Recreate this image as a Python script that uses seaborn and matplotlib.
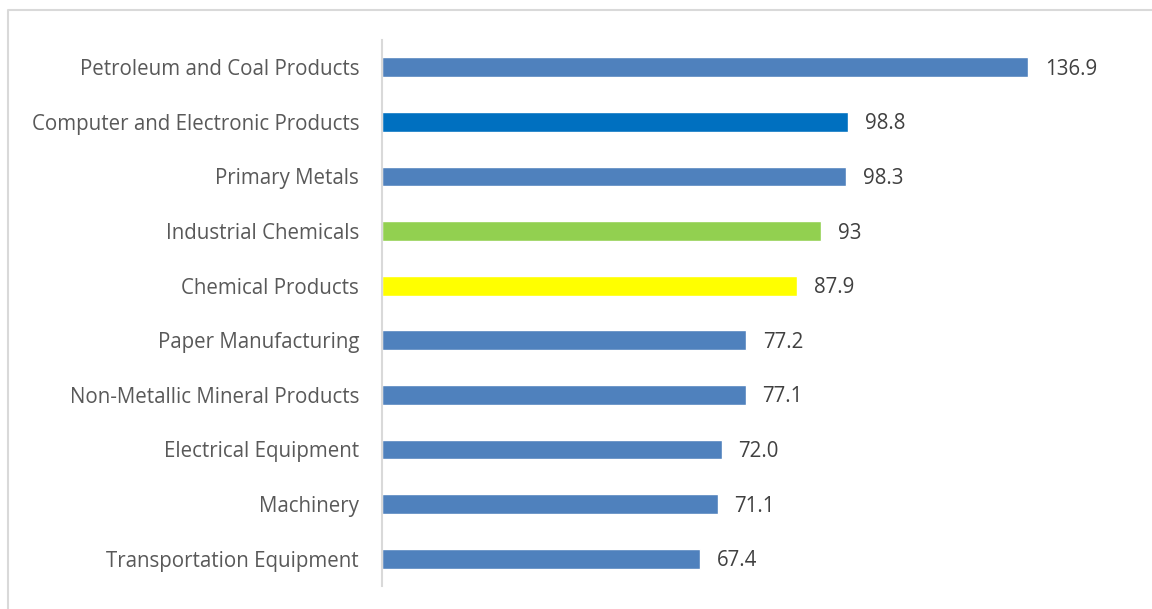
import matplotlib
matplotlib.use("Agg")
import matplotlib.pyplot as plt
import seaborn as sns
import pandas as pd
from matplotlib.lines import Line2D

categories = ["Petroleum and Coal Products", "Computer and Electronic Products",
              "Primary Metals", "Industrial Chemicals", "Chemical Products",
              "Paper Manufacturing", "Non-Metallic Mineral Products",
              "Electrical Equipment", "Machinery", "Transportation Equipment"]
values = [136.9, 98.8, 98.3, 93, 87.9, 77.2, 77.1, 72.0, 71.1, 67.4]
value_labels = ["136.9", "98.8", "98.3", "93", "87.9", "77.2", "77.1", "72.0", "71.1", "67.4"]
bar_colors = ["#4F81BD", "#0070C0", "#4F81BD", "#92D050", "#FFFF00",
              "#4F81BD", "#4F81BD", "#4F81BD", "#4F81BD", "#4F81BD"]

sns.set_theme(style="white")
plt.rcParams["font.family"] = ["Open Sans", "DejaVu Sans"]

df = pd.DataFrame({"cat": categories, "val": values})

fig = plt.figure(figsize=(11.52, 6.09), dpi=100)
ax = fig.add_axes([382 / 1152, 23 / 609, 760 / 1152, 546 / 609])
sns.barplot(data=df, x="val", y="cat", hue="cat", palette=bar_colors,
            legend=False, width=0.36, ax=ax, saturation=1)

# value labels to the right of each bar
for i, (v, lab) in enumerate(zip(values, value_labels)):
    ax.annotate(lab, (v, i), xytext=(12, -1.5), textcoords="offset points",
                ha="left", va="center", fontsize=14.8, color="#404040")

ax.set_xlim(0, 760 / 4.72)
ax.set_ylim(9.5, -0.5)
ax.set_xlabel("")
ax.set_ylabel("")
ax.set_xticks([])
ax.tick_params(axis="y", length=0, pad=16.5, labelsize=14.8, labelcolor="#595959")
for s in ["top", "right", "bottom"]:
    ax.spines[s].set_visible(False)
ax.spines["left"].set_color("#D9D9D9")
ax.spines["left"].set_linewidth(1.5)

# chart frame: only top and left edges fall inside the picture
fig.lines.append(Line2D([8 / 1152, 8 / 1152, 1], [0, 1 - 10 / 609, 1 - 10 / 609],
                        transform=fig.transFigure, color="#D9D9D9", linewidth=1.5))

fig.savefig("out.png", dpi=100)
